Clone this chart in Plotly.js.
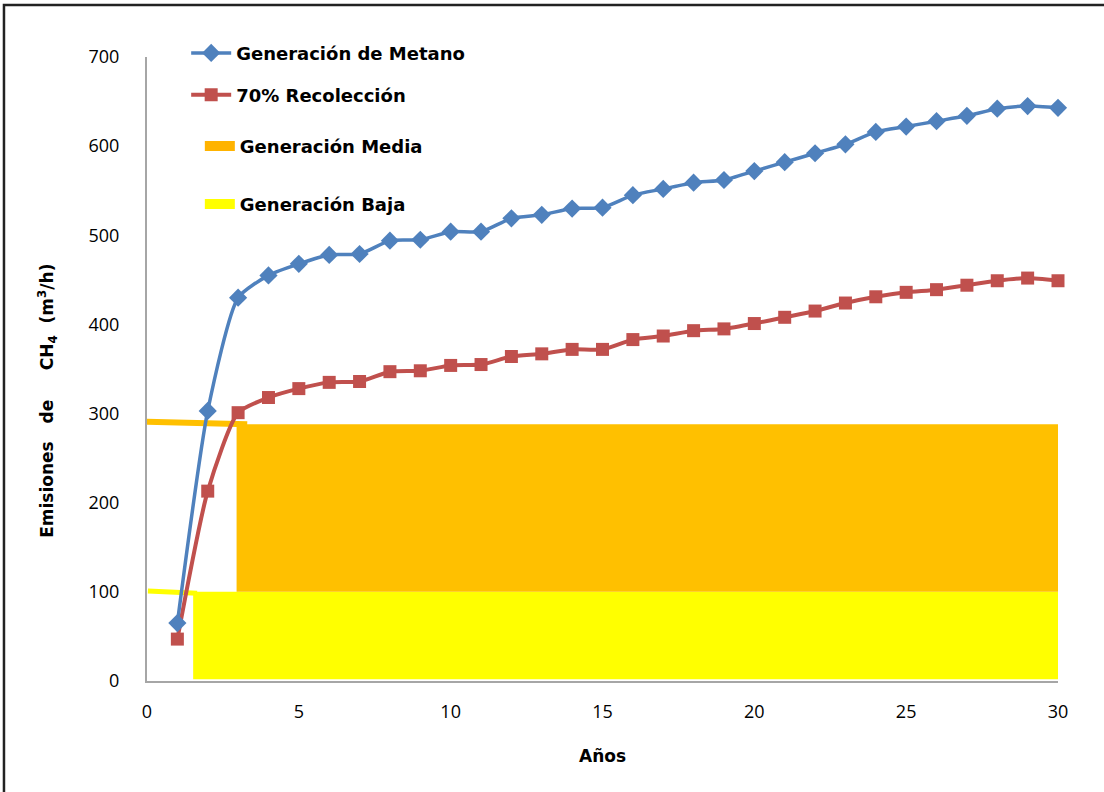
<!DOCTYPE html>
<html>
<head>
<meta charset="utf-8">
<script src="https://cdn.plot.ly/plotly-3.0.1.min.js"></script>
<style>html,body{margin:0;padding:0;background:#fff;}#chart{width:1104px;height:792px;}</style>
</head>
<body>
<div id="chart"></div>
<script>
// ---- data ----
const years = [1,2,3,4,5,6,7,8,9,10,11,12,13,14,15,16,17,18,19,20,21,22,23,24,25,26,27,28,29,30];
const generacionMetano = [65,303,430,455,468,478,479,494,495,504,504,519,523,530,531,545,552,559,562,572,582,592,602,616,622,628,634,642,645,643];
const recoleccion70 = [47,213,301,318,328,335,336,347,348,354,355,364,367,372,372,383,387,393,395,401,408,415,424,431,436,439,444,449,452,449];

// bands (x start, x end, low, high)
const mediaX = [2.95, 30];
const mediaRange = [100, 288];
const bajaX = [1.52, 30];
const bajaRange = [2, 100];

// short marker strokes on the left
const mediaStrokeX = [-0.15, 3.3];
const mediaStrokeY = [291, 288];
const bajaStrokeX = [0.03, 1.65];
const bajaStrokeY = [101, 98.5];

const seriesNames = ["Generación de Metano", "70% Recolección", "Generación Media", "Generación Baja"];
const xTicks = [0,5,10,15,20,25,30];
const yTicks = [0,100,200,300,400,500,600,700];

const FONT = "Open Sans, Noto Sans, sans-serif";
const BFONT = "DejaVu Sans, Open Sans, sans-serif";
const cBlue = "#4F81BD", cRed = "#C0504D", cOrange = "#FFC000", cYellow = "#FFFF00";

function rectPoly(xr, yr) {
  return {x: [xr[0], xr[1], xr[1], xr[0], xr[0]], y: [yr[0], yr[0], yr[1], yr[1], yr[0]]};
}
const mediaPoly = rectPoly(mediaX, mediaRange);
const bajaPoly = rectPoly(bajaX, bajaRange);

const traces = [
  {x: bajaPoly.x, y: bajaPoly.y, type: "scatter", mode: "lines", fill: "toself",
   fillcolor: cYellow, line: {width: 0, color: cYellow}, showlegend: false, hoverinfo: "skip"},
  {x: mediaPoly.x, y: mediaPoly.y, type: "scatter", mode: "lines", fill: "toself",
   fillcolor: cOrange, line: {width: 0, color: cOrange}, showlegend: false, hoverinfo: "skip"},
  {x: mediaStrokeX, y: mediaStrokeY, type: "scatter", mode: "lines", line: {color: cOrange, width: 6},
   showlegend: false, cliponaxis: false, hoverinfo: "skip"},
  {x: bajaStrokeX, y: bajaStrokeY, type: "scatter", mode: "lines", line: {color: cYellow, width: 5},
   showlegend: false, cliponaxis: false, hoverinfo: "skip"},
  // legend keys for the bands
  {x: [null], y: [null], type: "scatter", mode: "lines", name: seriesNames[2],
   line: {color: "#FFB300", width: 11}, legend: "legend3"},
  {x: [null], y: [null], type: "scatter", mode: "lines", name: seriesNames[3],
   line: {color: cYellow, width: 11}, legend: "legend4"},
  {x: years, y: recoleccion70, type: "scatter", mode: "lines+markers", name: seriesNames[1],
   line: {color: cRed, width: 4, shape: "spline", smoothing: 0.6},
   marker: {symbol: "square", size: 13, color: cRed}, legend: "legend2", cliponaxis: false},
  {x: years, y: generacionMetano, type: "scatter", mode: "lines+markers", name: seriesNames[0],
   line: {color: cBlue, width: 3.5, shape: "spline", smoothing: 0.6},
   marker: {symbol: "diamond", size: 14, color: cBlue}, legend: "legend", cliponaxis: false}
];

const legFont = {family: BFONT, size: 18, color: "#000", weight: "bold"};
function leg(x, y, w) {
  return {x: x, y: y, xanchor: "left", yanchor: "middle", bgcolor: "rgba(0,0,0,0)",
          borderwidth: 0, font: legFont, itemwidth: w};
}

const layout = {
  width: 1104, height: 792,
  paper_bgcolor: "#fff", plot_bgcolor: "#fff",
  margin: {l: 147, r: 46, t: 57, b: 111},
  font: {family: FONT, size: 18, color: "#000"},
  xaxis: {range: [0, 30], tickvals: xTicks, showgrid: false, zeroline: false,
          showline: true, linecolor: "#A6A6A6", linewidth: 2, ticks: "", ticklabelstandoff: 13,
          tickfont: {family: FONT, size: 18, color: "#000"},
          title: {text: "Años", font: {family: BFONT, size: 17, weight: "bold", color: "#000"}, standoff: 29}},
  yaxis: {range: [0, 700], tickvals: yTicks, showgrid: false, zeroline: false,
          showline: true, linecolor: "#A6A6A6", linewidth: 2, ticks: "", ticklabelstandoff: 22,
          tickfont: {family: FONT, size: 18, color: "#000"}},
  showlegend: true,
  legend: leg(0.043, 1.006, 40),
  legend2: leg(0.043, 0.939, 40),
  legend3: leg(0.058, 0.857, 30),
  legend4: leg(0.058, 0.764, 30),
  annotations: [{
    xref: "paper", yref: "paper", x: -0.1087, y: 0.449, xanchor: "center", yanchor: "middle",
    textangle: -90, showarrow: false,
    text: "Emisiones\u00a0\u00a0\u00a0de\u00a0\u00a0\u00a0\u00a0\u00a0CH<sub>4</sub>\u00a0\u00a0(m<sup>3</sup>/h)",
    font: {family: BFONT, size: 17, weight: "bold", color: "#000"}
  }],
  shapes: [{
    type: "rect", xref: "paper", yref: "paper",
    x0: -0.157, x1: 1.06, y0: -0.2, y1: 1.0833,
    line: {color: "#222", width: 2.5}, fillcolor: "rgba(0,0,0,0)", layer: "below"
  }]
};

Plotly.newPlot("chart", traces, layout, {displayModeBar: false, staticPlot: true});
</script>
</body>
</html>
